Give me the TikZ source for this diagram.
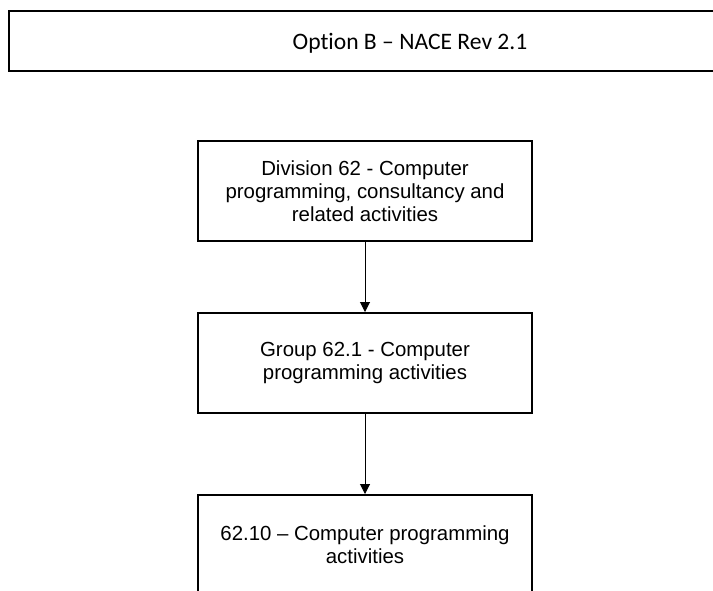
\documentclass[tikz,border=0pt]{standalone}
\usepackage{fontspec}
\setmainfont{Liberation Sans}
\newfontfamily\titlefont[Ligatures=NoCommon]{Carlito}
\usetikzlibrary{arrows.meta}

\begin{document}
\begin{tikzpicture}[x=0.75pt,y=-0.75pt,
  levelbox/.style={draw=black, line width=1.5pt, rectangle,
    minimum width=250.5pt, minimum height=75pt, inner sep=0pt,
    align=center, font=\fontsize{15.3}{17.25}\selectfont},
  titlebox/.style={draw=black, line width=1.5pt, rectangle,
    minimum width=540pt, minimum height=45pt, inner sep=0pt},
  link/.style={draw=black, line width=0.75pt,
    -{Triangle[length=7.5pt,width=7.5pt]}}]
\useasboundingbox (0,0) rectangle (713,590);
\clip (0,0) rectangle (713,590);

% heading band
\node[titlebox] (head) at (369,41) {};
\node[font=\titlefont\fontsize{17.7}{21}\selectfont] (headtext) at (410,43)
  {Option B – NACE Rev 2.1};

% classification levels
\node[levelbox] (division) at (365,191)
  {Division 62 - Computer\\programming, consultancy and\\related activities};
\node[levelbox] (group) at (365,363)
  {Group 62.1 - Computer\\programming activities};
\node[levelbox] (class) at (365,545)
  {62.10 – Computer programming\\activities};

% hierarchy links
\draw[link] (division.south) -- (group.north);
\draw[link] (group.south) -- (class.north);
\end{tikzpicture}
\end{document}
